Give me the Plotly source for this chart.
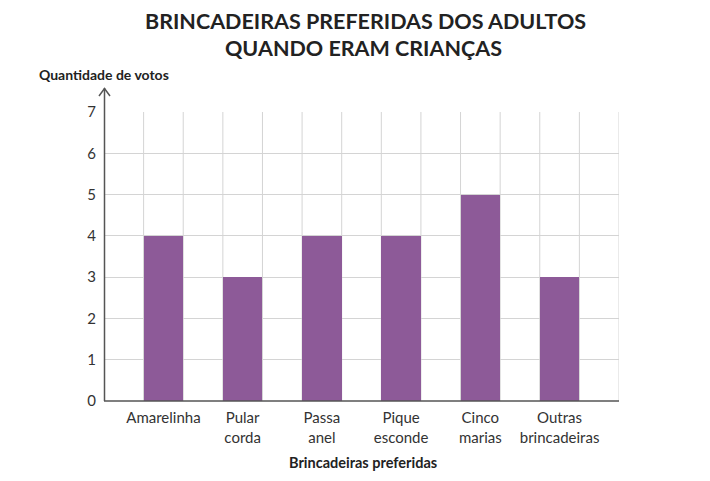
import plotly.graph_objects as go

categorias = ["Amarelinha", "Pular<br>corda", "Passa<br>anel", "Pique<br>esconde", "Cinco<br>marias", "Outras<br>brincadeiras"]
votos = [4, 3, 4, 4, 5, 3]
y_ticks = [0, 1, 2, 3, 4, 5, 6, 7]

x_pos = list(range(len(categorias)))
OFF = 8  # page body margin
W, H = 710 - OFF, 481 - OFF
L, T = 104 - OFF, 112 - OFF
R = W - (619 - OFF)
B = H - (401 - OFF)
pw, ph = W - L - R, H - T - B


def px(x_ref):
    return (x_ref - OFF - L) / pw


def py(y_ref):
    return (H - B - (y_ref - OFF)) / ph


fig = go.Figure()
fig.add_trace(go.Bar(x=x_pos, y=votos, width=0.5, marker=dict(color="#8D5A98", line=dict(width=0)),
                     hoverinfo="skip"))

shapes = []
for k in range(13):
    xv = -0.25 + 0.5 * k
    shapes.append(dict(type="line", xref="x", yref="y", x0=xv, x1=xv, y0=0, y1=7,
                       line=dict(color="#d4d4d4", width=1), layer="below"))
shapes.append(dict(type="line", xref="paper", yref="paper", x0=px(104.5), x1=px(104.5), y0=0, y1=py(88),
                   line=dict(color="#555555", width=1.5)))
shapes.append(dict(type="path", xref="paper", yref="paper",
                   path=f"M {px(99)} {py(96)} L {px(104.5)} {py(88.5)} L {px(110)} {py(96)}",
                   line=dict(color="#555555", width=1.5)))
shapes.append(dict(type="line", xref="paper", yref="paper", x0=0, x1=1, y0=0, y1=0,
                   line=dict(color="#555555", width=1.5)))

fig.update_layout(
    width=W, height=H,
    margin=dict(l=L, r=R, t=T, b=B),
    plot_bgcolor="white", paper_bgcolor="white",
    font=dict(family="Lato", color="#333333", size=15),
    showlegend=False,
    bargap=0,
    xaxis=dict(range=[-0.75, 5.75], tickvals=x_pos, ticktext=categorias, showgrid=False,
               zeroline=False, showline=False, ticks="", fixedrange=True, ticklabelstandoff=6),
    yaxis=dict(range=[0, 7], tickvals=y_ticks, showgrid=True, gridcolor="#d4d4d4", gridwidth=1,
               zeroline=False, showline=False, ticks="", fixedrange=True, ticklabelstandoff=7),
    shapes=shapes,
    annotations=[
        dict(text="<b>BRINCADEIRAS PREFERIDAS DOS ADULTOS</b>", xref="paper", yref="paper",
             x=px(365), y=py(21), xanchor="center", yanchor="middle", showarrow=False,
             font=dict(size=21.5, color="#222222")),
        dict(text="<b>QUANDO ERAM CRIANÇAS</b>", xref="paper", yref="paper",
             x=px(363), y=py(48), xanchor="center", yanchor="middle", showarrow=False,
             font=dict(size=21.5, color="#222222")),
        dict(text="<b>Quantidade de votos</b>", xref="paper", yref="paper",
             x=px(37), y=py(74), xanchor="left", yanchor="middle", showarrow=False,
             font=dict(size=14, color="#222222")),
        dict(text="<b>Brincadeiras preferidas</b>", xref="paper", yref="paper",
             x=px(363), y=py(462), xanchor="center", yanchor="middle", showarrow=False,
             font=dict(size=14.5, color="#222222")),
    ],
)

fig.write_html("out.html")
